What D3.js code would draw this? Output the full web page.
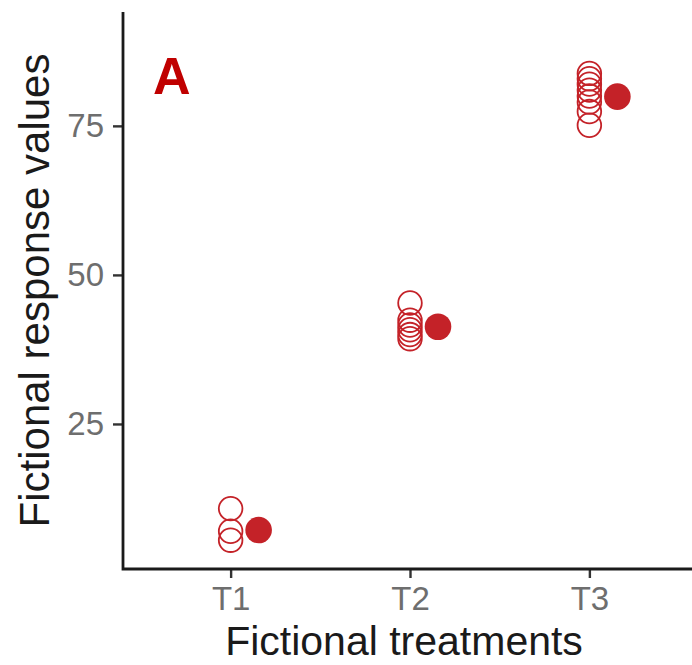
<!DOCTYPE html>
<html>
<head>
<meta charset="utf-8">
<script src="https://cdn.jsdelivr.net/npm/d3@7/dist/d3.min.js"></script>
<style>
  html, body { margin: 0; padding: 0; background: #fff; }
  svg { display: block; }
</style>
</head>
<body>
<svg id="chart" width="692" height="665"></svg>
<script>
// ---- data ----
const categories = ["T1", "T2", "T3"];
const obsT1 = [10.8, 7.0, 5.5];
const obsT2 = [45.3, 42.4, 41.6, 40.8, 40.0, 39.3];
const obsT3 = [83.8, 82.9, 82.0, 81.0, 80.0, 79.0, 77.4, 75.1];
const means = [7.2, 41.3, 79.9];
const yTicks = [25, 50, 75];
const panelLabel = "A";
const xTitle = "Fictional treatments";
const yTitle = "Fictional response values";

const observations = [
  ...obsT1.map(v => ({ cat: "T1", v })),
  ...obsT2.map(v => ({ cat: "T2", v })),
  ...obsT3.map(v => ({ cat: "T3", v }))
];
const meanData = categories.map((c, i) => ({ cat: c, v: means[i] }));

// ---- layout ----
const svg = d3.select("#chart");
const pLeft = 123, pRight = 697, pTop = 12, pBottom = 569;

const x = d3.scalePoint().domain(categories).range([pLeft, pRight]).padding(0.6);
const y = d3.scaleLinear().domain([0.67, 94.1]).range([pBottom, pTop]);

const red = "#c42228";

// open circles (individual values)
svg.append("g").selectAll("circle").data(observations).join("circle")
  .attr("cx", d => x(d.cat))
  .attr("cy", d => y(d.v))
  .attr("r", 11.8)
  .attr("fill", "none")
  .attr("stroke", red)
  .attr("stroke-width", 1.8);

// filled circles (means)
svg.append("g").selectAll("circle").data(meanData).join("circle")
  .attr("cx", d => x(d.cat) + 28)
  .attr("cy", d => y(d.v))
  .attr("r", 13.3)
  .attr("fill", red);

// axes
const font = "'Liberation Sans', Arial, sans-serif";
const yAxis = svg.append("g").attr("transform", `translate(${pLeft},0)`)
  .call(d3.axisLeft(y).tickValues(yTicks).tickSize(10).tickPadding(9));
const xAxis = svg.append("g").attr("transform", `translate(0,${pBottom})`)
  .call(d3.axisBottom(x).tickSize(9).tickPadding(9));

[yAxis, xAxis].forEach(g => {
  g.select(".domain").remove();
  g.selectAll(".tick line").attr("stroke", "#333").attr("stroke-width", 2.4);
  g.selectAll(".tick text")
    .attr("fill", "#6e6e6e")
    .style("font-family", font)
    .style("font-size", "33px");
});

// axis lines (L-shape)
svg.append("path")
  .attr("d", `M${pLeft},${pTop} V${pBottom} H${692}`)
  .attr("fill", "none")
  .attr("stroke", "#1a1a1a")
  .attr("stroke-width", 2.8);

// titles
svg.append("text")
  .attr("x", 404)
  .attr("y", 655)
  .attr("text-anchor", "middle")
  .style("font-family", font)
  .style("font-size", "41px")
  .attr("fill", "#1a1a1a")
  .text(xTitle);

svg.append("text")
  .attr("transform", `translate(49,${(pTop + pBottom) / 2}) rotate(-90)`)
  .attr("text-anchor", "middle")
  .style("font-family", font)
  .style("font-size", "42px")
  .attr("fill", "#1a1a1a")
  .text(yTitle);

// panel label
svg.append("text")
  .attr("x", 153)
  .attr("y", 94)
  .style("font-family", font)
  .style("font-size", "52px")
  .style("font-weight", "bold")
  .attr("fill", "#c00000")
  .text(panelLabel);
</script>
</body>
</html>
